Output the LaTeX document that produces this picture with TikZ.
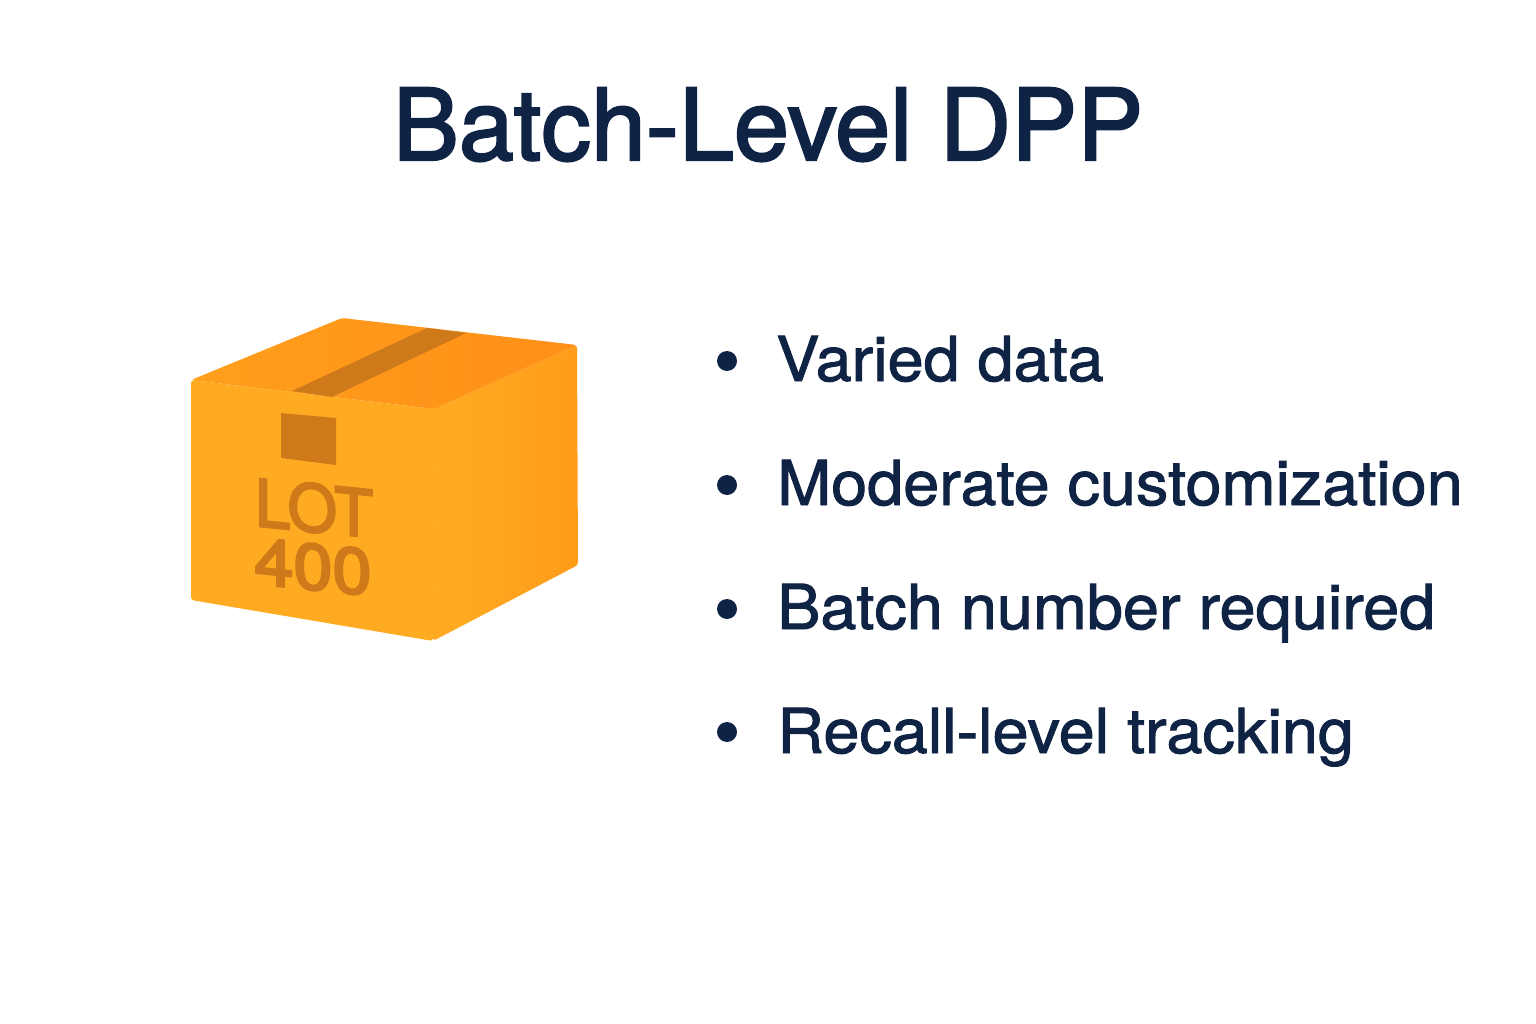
\documentclass[tikz,border=0pt]{standalone}
\usepackage{fontspec}
\setmainfont[FakeBold=1.5]{TeX Gyre Heros}
\newfontfamily\titlefont[FakeBold=2.2]{TeX Gyre Heros}
\newfontfamily\lotfont[FakeBold=3.6]{TeX Gyre Heros}
\definecolor{navy}{HTML}{0F2344}
\definecolor{boxA}{HTML}{FFAB22}
\definecolor{boxB}{HTML}{FF9F1C}
\definecolor{boxC}{HTML}{FF9C1A}
\definecolor{boxD}{HTML}{FF8F18}
\definecolor{lotmark}{HTML}{CE7A1A}
\tikzset{
 x=1pt,y=-1pt,
 bullettext/.style={anchor=base west,text=navy,font=\fontsize{62}{62}\selectfont,inner sep=0pt,xscale=1.045},
 bulletdot/.style={circle,fill=navy,minimum size=20pt,inner sep=0pt},
 facestyle/.style={line join=round,rounded corners=3pt},
 lottext/.style={text=lotmark,font=\lotfont\fontsize{65}{65}\selectfont,inner sep=0pt,yslant=-0.1},
}
\begin{document}
\begin{tikzpicture}
\useasboundingbox (0,0) rectangle (1536,1024);
\fill[white] (0,0) rectangle (1536,1024);
\node[anchor=base,text=navy,font=\titlefont\fontsize{99}{99}\selectfont,inner sep=0pt] (title) at (768,160) {Batch-Level DPP};
% box
\fill[boxA] (428,404) rectangle (440,416);
\shade[facestyle,left color=boxA,right color=boxA] (191,380) -- (434,409) -- (433,641) -- (191,600) -- cycle;
\shade[facestyle,left color=boxA,middle color=boxA,right color=boxC] (434,409) -- (577,345) -- (578,565) -- (433,641) -- cycle;
\shade[facestyle,left color=boxB,middle color=boxB,right color=boxD] (191,380) -- (342,318) -- (577,345) -- (434,409) -- cycle;
\fill[lotmark] (292,391) -- (427,328) -- (466,333) -- (332,397) -- cycle;
\fill[lotmark] (281,413) -- (336,418) -- (336,465) -- (281,458) -- cycle;
\node[lottext,xscale=.97] (lot) at (314,508) {LOT};
\node[lottext,xscale=1.08] (num) at (313,567) {400};
% bullets
\node[bulletdot] (b1) at (727,361) {};
\node[bulletdot] (b2) at (727,485) {};
\node[bulletdot] (b3) at (727,609) {};
\node[bulletdot] (b4) at (727,732) {};
\node[bullettext] (t1) at (776,381) {Varied data};
\node[bullettext] (t2) at (777,505) {Moderate customization};
\node[bullettext] (t3) at (777,629) {Batch number required};
\node[bullettext] (t4) at (777,753) {Recall-level tracking};
\end{tikzpicture}
\end{document}
